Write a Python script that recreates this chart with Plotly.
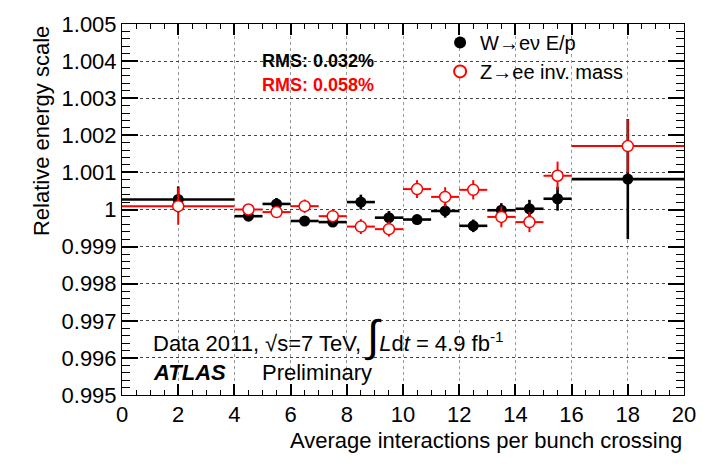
import plotly.graph_objects as go

# ---- data ----
mu_centers = [2, 4.5, 5.5, 6.5, 7.5, 8.5, 9.5, 10.5, 11.5, 12.5, 13.5, 14.5, 15.5, 18]
mu_halfwidth = [2, 0.5, 0.5, 0.5, 0.5, 0.5, 0.5, 0.5, 0.5, 0.5, 0.5, 0.5, 0.5, 2]

w_scale = [1.00027, 0.99982, 1.00015, 0.99969, 0.99966, 1.00020, 0.99978,
           0.99973, 0.99996, 0.99956, 0.99998, 1.00002, 1.00029, 1.00082]
w_err = [0.00035, 0.00010, 0.00016, 0.00010, 0.00013, 0.00020, 0.00018,
         0.00013, 0.00018, 0.00017, 0.00019, 0.00024, 0.00032, 0.00162]

z_scale = [1.00009, 1.00000, 0.99993, 1.00009, 0.99982, 0.99954, 0.99947,
           1.00055, 1.00034, 1.00053, 0.99980, 0.99966, 1.00091, 1.00171]
z_err = [0.00050, 0.00013, 0.00016, 0.00018, 0.00017, 0.00020, 0.00020,
         0.00024, 0.00026, 0.00026, 0.00028, 0.00027, 0.00038, 0.00072]

x_ticks = [0, 2, 4, 6, 8, 10, 12, 14, 16, 18, 20]
y_ticks = [0.995, 0.996, 0.997, 0.998, 0.999, 1.000, 1.001, 1.002, 1.003, 1.004, 1.005]
y_ticklabels = ["0.995", "0.996", "0.997", "0.998", "0.999", "1", "1.001", "1.002", "1.003", "1.004", "1.005"]

FONT = "Liberation Sans, Arial, Helvetica, sans-serif"

fig = go.Figure()

fig.add_trace(go.Scatter(
    x=mu_centers, y=w_scale, mode="markers", name="W\u2192e\u03bd E/p",
    marker=dict(symbol="circle", size=11, color="black"),
    error_x=dict(type="data", array=mu_halfwidth, width=0, thickness=2.6, color="black"),
    error_y=dict(type="data", array=w_err, width=0, thickness=2.6, color="black"),
))
fig.add_trace(go.Scatter(
    x=mu_centers, y=z_scale, mode="markers", name="Z\u2192ee inv. mass",
    marker=dict(symbol="circle", size=11, color="white", line=dict(color="red", width=1.5)),
    error_x=dict(type="data", array=mu_halfwidth, width=0, thickness=2, color="red"),
    error_y=dict(type="data", array=z_err, width=0, thickness=2, color="red"),
))

fig.update_layout(
    width=708, height=469,
    margin=dict(l=122, r=17, t=20, b=74),
    paper_bgcolor="white", plot_bgcolor="white",
    font=dict(family=FONT, size=22, color="black"),
    showlegend=True,
    legend=dict(x=0.566, y=1.003, xanchor="left", yanchor="top",
                bgcolor="rgba(0,0,0,0)", font=dict(size=20, family=FONT),
                itemsizing="constant", tracegroupgap=0),
    xaxis=dict(range=[0, 20], tickvals=x_ticks, ticks="inside", ticklen=11, tickwidth=1.5,
               tickcolor="black", showline=True, linecolor="black", linewidth=1,
               mirror="allticks", showgrid=True, gridcolor="#9a9a9a", griddash="dot",
               gridwidth=1, zeroline=False, tickfont=dict(size=22), ticklabelstandoff=0,
               minor=dict(dtick=0.5, ticklen=5, tickwidth=1, tickcolor="black",
                          ticks="inside", showgrid=False)),
    yaxis=dict(range=[0.995, 1.005], tickvals=y_ticks, ticktext=y_ticklabels,
               ticks="inside", ticklen=16, tickwidth=1.5, tickcolor="black",
               showline=True, linecolor="black", linewidth=1, mirror="allticks",
               showgrid=True, gridcolor="#444444", griddash="dot", gridwidth=1,
               zeroline=False, tickfont=dict(size=22),
               minor=dict(dtick=0.0002, ticklen=8, tickwidth=1, tickcolor="black",
                          ticks="inside", showgrid=False)),
)

ann = [
    dict(text="<b>RMS: 0.032%</b>", x=0.246, y=0.899, font=dict(size=18, color="black"),
         xanchor="left", yanchor="middle"),
    dict(text="<b>RMS: 0.058%</b>", x=0.246, y=0.835, font=dict(size=18, color="red"),
         xanchor="left", yanchor="middle"),
    dict(text="Data 2011, \u221as=7 TeV, <span style='font-size:44px'>\u222b</span><i>L</i>d<i>t</i> = 4.9 fb<sup>-1</sup>",
         x=0.052, y=0.16, font=dict(size=22), xanchor="left", yanchor="middle"),
    dict(text="<b><i>ATLAS</i></b>", x=0.052, y=0.061, font=dict(size=22),
         xanchor="left", yanchor="middle"),
    dict(text="Preliminary", x=0.246, y=0.061, font=dict(size=22),
         xanchor="left", yanchor="middle"),
    dict(text="Average interactions per bunch crossing", x=1.0, y=-0.123,
         font=dict(size=22), xanchor="right", yanchor="middle"),
    dict(text="Relative energy scale", x=-0.144, y=1.0, textangle=-90,
         font=dict(size=22), xanchor="center", yanchor="top"),
]
for a in ann:
    a.update(xref="paper", yref="paper", showarrow=False)
    fig.add_annotation(**a)

fig.write_html("out.html")
